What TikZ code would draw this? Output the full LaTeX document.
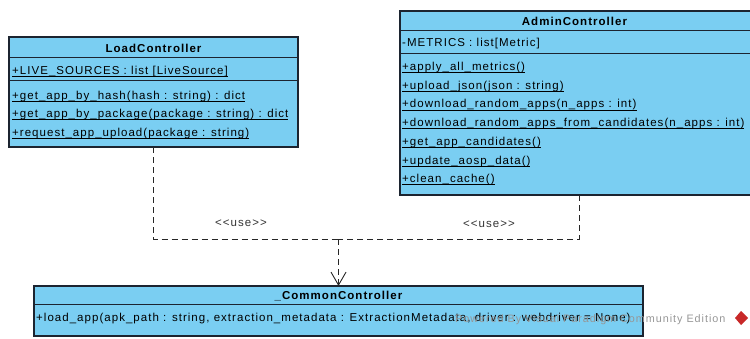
\documentclass[tikz,border=0pt]{standalone}
\usepackage{fontspec}
\setmainfont{Liberation Sans}[LetterSpace=9, Ligatures=TeXOff]
\usetikzlibrary{arrows.meta}
\definecolor{classfill}{RGB}{122,206,242}
\definecolor{classline}{RGB}{28,36,48}
\definecolor{markgray}{RGB}{150,150,150}
\definecolor{markred}{RGB}{200,40,40}
% underline for static members
\newcommand\mkul[1]{\setbox0\hbox{#1}\rlap{\rule[-2.4pt]{\wd0}{0.75pt}}\box0}
\tikzset{
  classbox/.style={draw=classline, fill=classfill, line width=1.1pt,
    inner sep=0pt, outer sep=0pt, anchor=north west},
  divider/.style={draw=classline, line width=1pt},
  member/.style={anchor=base west, inner sep=0pt,
    font=\fontsize{11.5}{13}\selectfont},
  classname/.style={anchor=base, inner sep=0pt,
    font=\bfseries\fontsize{11.5}{13}\selectfont},
  usage/.style={draw=black!85, line width=0.9pt, dash pattern=on 6pt off 4pt},
  stereo/.style={inner sep=0pt, text=black!80,
    font=\fontsize{11.5}{12}\selectfont},
}
\begin{document}
\begin{tikzpicture}[x=1pt, y=-1pt]
\useasboundingbox (0,0) rectangle (750,338);

% LoadController
\node[classbox, minimum width=289pt, minimum height=110pt] (load) at (9,37) {};
\draw[divider] (9,57.5) -- (298,57.5);
\draw[divider] (9,80) -- (298,80);
\node[classname] (loadname) at (153.5,52) {LoadController};
\node[member] (loada1) at (12,74) {\mkul{+LIVE\_SOURCES : list [LiveSource]}};
\node[member] (loadm1) at (12,99) {\mkul{+get\_app\_by\_hash(hash : string) : dict}};
\node[member] (loadm2) at (12,117.5) {\mkul{+get\_app\_by\_package(package : string) : dict}};
\node[member] (loadm3) at (12,136) {\mkul{+request\_app\_upload(package : string)}};

% AdminController
\node[classbox, minimum width=358pt, minimum height=184pt] (admin) at (400,11) {};
\draw[divider] (400,30) -- (758,30);
\draw[divider] (400,53) -- (758,53);
\node[classname] (adminname) at (574.5,25) {AdminController};
\node[member] (admina1) at (402,46) {-METRICS : list[Metric]};
\node[member] (adminm1) at (402,70.5) {\mkul{+apply\_all\_metrics()}};
\node[member] (adminm2) at (402,89.2) {\mkul{+upload\_json(json : string)}};
\node[member] (adminm3) at (402,107.9) {\mkul{+download\_random\_apps(n\_apps : int)}};
\node[member] (adminm4) at (402,126.6) {\mkul{+download\_random\_apps\_from\_candidates(n\_apps : int)}};
\node[member] (adminm5) at (402,145.3) {\mkul{+get\_app\_candidates()}};
\node[member] (adminm6) at (402,164) {\mkul{+update\_aosp\_data()}};
\node[member] (adminm7) at (402,182.7) {\mkul{+clean\_cache()}};

% _CommonController
\node[classbox, minimum width=609pt, minimum height=50pt] (common) at (34,286) {};
\draw[divider] (34,304) -- (643,304);
\node[classname] (commonname) at (338.5,299) {\_CommonController};
\node[member] (commonm1) at (36,321) {+load\_app(apk\_path : string, extraction\_metadata : ExtractionMetadata, driver : webdriver = None)};

% editor mark
\node[anchor=base west, inner sep=0pt, text=markgray, font=\fontsize{10.8}{12}\selectfont]
  (mark) at (455,322) {Powered By Visual Paradigm Community Edition};
\fill[markred] (741,311) -- (748,318) -- (741,325) -- (735,318) -- cycle;

% dependencies
\coordinate (join) at (338.5,239);
\draw[usage] (load.south) |- (join);
\draw[usage] (admin.south) |- (join);
\draw[usage, -{Straight Barb[length=13pt, width=15pt, line width=0.9pt]}]
  (join) -- (common.north);
\node[stereo] (use1) at (241,223) {<<use>>};
\node[stereo] (use2) at (489,224) {<<use>>};
\end{tikzpicture}
\end{document}
